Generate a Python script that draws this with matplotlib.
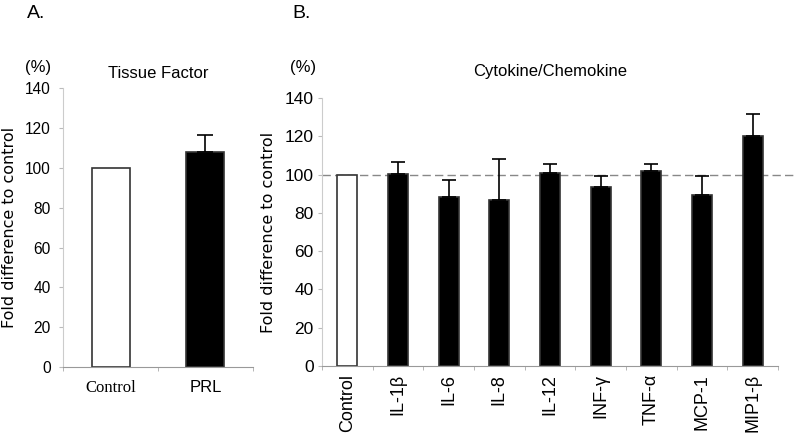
import matplotlib
matplotlib.use("Agg")
import matplotlib.pyplot as plt
import numpy as np

plt.rcParams['font.family'] = ['Liberation Sans', 'DejaVu Sans']

# Panel A data
a_cats = ["Control", "PRL"]
a_vals = [100, 108]
a_err = [0, 8.5]

# Panel B data
b_cats = ["Control", "IL-1β", "IL-6", "IL-8", "IL-12", "INF-γ", "TNF-α", "MCP-1", "MIP1-β"]
b_vals = [100, 100.5, 88.5, 86.5, 101, 93.5, 102, 89.5, 120]
b_err = [0, 6, 8.5, 21.5, 4.5, 5.5, 3.5, 10, 11.5]

yticks = [0, 20, 40, 60, 80, 100, 120, 140]

fig = plt.figure(figsize=(8, 4.36), dpi=100)

def style_axes(ax, n, tsize, pad):
    ax.set_ylim(0, 140)
    ax.set_xlim(-0.5, n - 0.5)
    ax.set_yticks(yticks)
    ax.tick_params(axis='y', labelsize=tsize, length=3, color='#bbbbbb', pad=pad)
    ax.set_xticks(np.arange(n + 1) - 0.5, minor=True)
    ax.tick_params(axis='x', which='minor', length=3, color='#aaaaaa')
    ax.tick_params(axis='x', which='major', length=0)
    for s in ['top', 'right']:
        ax.spines[s].set_visible(False)
    ax.spines['left'].set_color('#cccccc')
    ax.spines['bottom'].set_color('#999999')
    ax.spines['left'].set_linewidth(0.8)
    ax.spines['bottom'].set_linewidth(0.8)
    ax.set_ylabel("Fold difference to control", fontsize=11.5, family='DejaVu Sans', labelpad=6)

# Panel A
axA = fig.add_axes([0.079, 0.158, 0.237, 0.64])
xa = np.arange(len(a_cats))
colsA = ['white', 'black']
axA.bar(xa, a_vals, width=0.4, color=colsA, edgecolor='#333333', linewidth=1.2)
axA.errorbar(xa[1:], a_vals[1:], yerr=[[0], a_err[1:]], fmt='none', ecolor='black', elinewidth=1.2, capsize=6, capthick=1.2)
style_axes(axA, len(a_cats), 11.2, 6)
axA.set_xticks(xa)
axA.set_xticklabels(a_cats, fontsize=12)
axA.tick_params(axis='x', which='major', pad=9)
axA.get_xticklabels()[0].set_family('Liberation Serif')
axA.set_title("Tissue Factor", fontsize=12, pad=7)

# Panel B
axB = fig.add_axes([0.4025, 0.161, 0.57, 0.614])
xb = np.arange(len(b_cats))
colsB = ['white'] + ['black'] * (len(b_cats) - 1)
axB.bar(xb, b_vals, width=0.4, color=colsB, edgecolor='#333333', linewidth=1.2, zorder=2)
axB.errorbar(xb[1:], b_vals[1:], yerr=[np.zeros(len(b_cats) - 1), b_err[1:]], fmt='none',
             ecolor='black', elinewidth=1.2, capsize=5, capthick=1.2, zorder=3)
axB.axhline(100, color='#888888', linestyle=(0, (6, 3)), linewidth=1, xmax=1.04, clip_on=False, zorder=1)
style_axes(axB, len(b_cats), 12.5, 3)
axB.set_xticks(xb)
axB.set_xticklabels(b_cats, rotation=90, fontsize=13)
axB.tick_params(axis='x', which='major', pad=6)
axB.set_title("Cytokine/Chemokine", fontsize=12, pad=16)

fig.text(0.034, 0.968, "A.", fontsize=14, va='center')
fig.text(0.365, 0.968, "B.", fontsize=14, va='center')
fig.text(0.031, 0.846, "(%)", fontsize=12, va='center')
fig.text(0.362, 0.846, "(%)", fontsize=12, va='center')

fig.savefig("out.png", dpi=100)
